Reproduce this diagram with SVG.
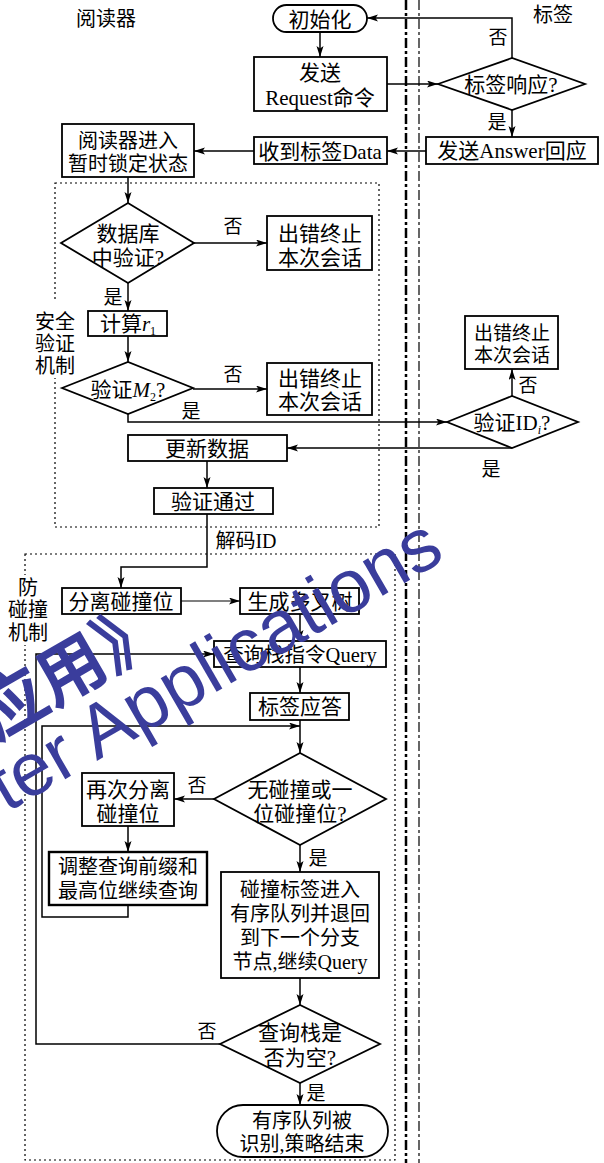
<svg xmlns="http://www.w3.org/2000/svg" width="604" height="1163" viewBox="0 0 604 1163">
<style>
.n rect,.n path{fill:#fff;stroke:#000;stroke-width:1.8}
.t{font-family:"Liberation Serif","Noto Sans CJK SC",serif;font-size:21px;text-anchor:middle;fill:#000}
.s{font-size:20px}
.l{font-family:"Liberation Serif","Noto Sans CJK SC",serif;font-size:19px;text-anchor:middle;fill:#000}
.c path{fill:none;stroke:#000;stroke-width:1.5}
.dot{fill:none;stroke:#000;stroke-width:1.2;stroke-dasharray:2 3}
.wm{fill:#3a3d9c;font-family:"Liberation Sans","Noto Sans CJK SC",sans-serif}
</style>
<defs>
<marker id="ah" markerWidth="12" markerHeight="8" refX="11" refY="3.5" orient="auto" markerUnits="userSpaceOnUse"><path d="M0,0 L11,3.5 L0,7 L2.5,3.5 z" fill="#000"/></marker>
</defs>
<rect width="604" height="1163" fill="#fff"/>
<g id="lanes">
<line x1="406" y1="0" x2="406" y2="1163" stroke="#000" stroke-width="2.5" stroke-dasharray="10 3 3 3"/>
<line x1="419" y1="0" x2="419" y2="1163" stroke="#000" stroke-width="1.2" stroke-dasharray="10 3 3 3"/>
</g>
<g id="group-security">
<rect class="dot" x="55" y="183" width="324" height="344"/>
<rect x="33" y="302" width="44" height="76" fill="#fff"/>
<text class="t s" x="55" y="329">安全</text>
<text class="t s" x="55" y="351">验证</text>
<text class="t s" x="55" y="373">机制</text>
</g>
<g id="group-anticollision">
<rect class="dot" x="25" y="554" width="370" height="606"/>
<rect x="6" y="575" width="44" height="70" fill="#fff"/>
<text class="t s" x="28" y="595">防</text>
<text class="t s" x="28" y="617">碰撞</text>
<text class="t s" x="28" y="640">机制</text>
</g>
<g id="lane-labels">
<text class="t s" x="106" y="26">阅读器</text>
<text class="t s" x="553" y="22">标签</text>
</g>
<g class="c" id="connectors">
<path d="M320,32 V57" marker-end="url(#ah)"/>
<path d="M387,84 H438" marker-end="url(#ah)"/>
<path d="M512,58 V18 H367" marker-end="url(#ah)"/>
<path d="M512,110 V137" marker-end="url(#ah)"/>
<path d="M426,151 H387" marker-end="url(#ah)"/>
<path d="M254,151 H194" marker-end="url(#ah)"/>
<path d="M128,177 V203" marker-end="url(#ah)"/>
<path d="M194,243 H267" marker-end="url(#ah)"/>
<path d="M128,283 V311" marker-end="url(#ah)"/>
<path d="M128,336 V362" marker-end="url(#ah)"/>
<path d="M193,389 H267" marker-end="url(#ah)"/>
<path d="M128,414 V422 H447" marker-end="url(#ah)"/>
<path d="M512,396 V369" marker-end="url(#ah)"/>
<path d="M512,448 H287" marker-end="url(#ah)"/>
<path d="M207,461 V488" marker-end="url(#ah)"/>
<path d="M207,514 V567 H121 V588" marker-end="url(#ah)"/>
<path d="M181,601 H240" marker-end="url(#ah)" style="stroke-width:1.1"/>
<path d="M300,614 V641" marker-end="url(#ah)"/>
<path d="M300,667 V693" marker-end="url(#ah)"/>
<path d="M300,720 V753" marker-end="url(#ah)"/>
<path d="M128,905 V917 H42 V726 H300" marker-end="url(#ah)"/>
<path d="M214,799 H174" marker-end="url(#ah)"/>
<path d="M128,826 V852" marker-end="url(#ah)"/>
<path d="M300,845 V872" marker-end="url(#ah)"/>
<path d="M300,978 V1005" marker-end="url(#ah)"/>
<path d="M220,1044 H36 V654 H214" marker-end="url(#ah)"/>
<path d="M300,1083 V1105" marker-end="url(#ah)"/>
</g>
<g id="edge-labels">
<text class="l" x="498" y="44">否</text>
<text class="l" x="497" y="129">是</text>
<text class="l" x="233" y="233">否</text>
<text class="l" x="113" y="304">是</text>
<text class="l" x="233" y="381">否</text>
<text class="l" x="191" y="418">是</text>
<text class="l" x="528" y="392">否</text>
<text class="l" x="491" y="476">是</text>
<text class="t s" x="246" y="548">解码ID</text>
<text class="l" x="197" y="792">否</text>
<text class="l" x="318" y="865">是</text>
<text class="l" x="207" y="1038">否</text>
<text class="l" x="316" y="1100">是</text>
</g>
<g class="n" id="n-init"><rect x="273" y="5" width="94" height="27" rx="13.5"/><text class="t" x="320" y="27">初始化</text></g>
<g class="n" id="n-request"><rect x="254" y="57" width="133" height="54"/><text class="t" x="320" y="80">发送</text><text class="t" x="320" y="105">Request命令</text></g>
<g class="n" id="n-respond"><path d="M438,84 L512,58 L585,84 L512,110 Z"/><text class="t" x="511" y="92">标签响应?</text></g>
<g class="n" id="n-answer"><rect x="426" y="137" width="172" height="27"/><text class="t" x="512" y="158">发送Answer回应</text></g>
<g class="n" id="n-data"><rect x="254" y="137" width="133" height="27"/><text class="t" x="320" y="159">收到标签Data</text></g>
<g class="n" id="n-lock"><rect x="62" y="124" width="132" height="53"/><text class="t s" x="128" y="148">阅读器进入</text><text class="t s" x="128" y="171">暂时锁定状态</text></g>
<g class="n" id="n-db"><path d="M61,243 L128,203 L194,243 L128,283 Z"/><text class="t" x="128" y="241">数据库</text><text class="t" x="128" y="265">中验证?</text></g>
<g class="n" id="n-err1"><rect x="267" y="216" width="105" height="54"/><text class="t" x="320" y="241">出错终止</text><text class="t" x="320" y="265">本次会话</text></g>
<g class="n" id="n-r1"><rect x="88" y="311" width="79" height="25"/><text class="t" x="128" y="331">计算<tspan font-style="italic">r</tspan><tspan font-size="12" dy="4">1</tspan></text></g>
<g class="n" id="n-m2"><path d="M62,388 L128,362 L193,388 L128,414 Z"/><text class="t" x="128" y="397">验证<tspan font-style="italic">M</tspan><tspan font-size="12" dy="4">2</tspan><tspan dy="-4">?</tspan></text></g>
<g class="n" id="n-err2"><rect x="267" y="363" width="105" height="52"/><text class="t" x="320" y="386">出错终止</text><text class="t" x="320" y="409">本次会话</text></g>
<g class="n" id="n-idi"><path d="M447,422 L512,396 L578,422 L512,448 Z"/><text class="t" x="512" y="430">验证ID<tspan font-style="italic" font-size="12" dy="4">i</tspan><tspan dy="-4">?</tspan></text></g>
<g class="n" id="n-err3"><rect x="465" y="316" width="93" height="53"/><text class="t" x="512" y="340" style="font-size:19px">出错终止</text><text class="t" x="512" y="362" style="font-size:19px">本次会话</text></g>
<g class="n" id="n-update"><rect x="128" y="435" width="159" height="26"/><text class="t" x="207" y="456">更新数据</text></g>
<g class="n" id="n-pass"><rect x="154" y="488" width="119" height="26"/><text class="t" x="213" y="509">验证通过</text></g>
<g class="n" id="n-sep"><rect x="62" y="588" width="119" height="26"/><text class="t" x="121" y="609">分离碰撞位</text></g>
<g class="n" id="n-tree"><rect x="240" y="588" width="119" height="26"/><text class="t" x="300" y="609">生成多叉树</text></g>
<g class="n" id="n-query"><rect x="214" y="641" width="172" height="26"/><text class="t" x="300" y="662" style="font-size:20.5px">查询栈指令Query</text></g>
<g class="n" id="n-reply"><rect x="250" y="693" width="99" height="27"/><text class="t" x="300" y="714">标签应答</text></g>
<g class="n" id="n-nocol"><path d="M214,799 L300,753 L386,799 L300,845 Z"/><text class="t" x="300" y="797">无碰撞或一</text><text class="t" x="300" y="821">位碰撞位?</text></g>
<g class="n" id="n-resep"><rect x="82" y="773" width="92" height="53"/><text class="t" x="128" y="797">再次分离</text><text class="t" x="128" y="821">碰撞位</text></g>
<g class="n" id="n-adjust"><rect x="49" y="852" width="158" height="53" style="stroke-width:2.4"/><text class="t s" x="128" y="874">调整查询前缀和</text><text class="t s" x="128" y="898">最高位继续查询</text></g>
<g class="n" id="n-queue"><rect x="221" y="872" width="158" height="106"/><text class="t s" x="300" y="897">碰撞标签进入</text><text class="t s" x="300" y="921">有序队列并退回</text><text class="t s" x="300" y="945">到下一个分支</text><text class="t s" x="300" y="969">节点,继续Query</text></g>
<g class="n" id="n-empty"><path d="M220,1044 L300,1005 L380,1044 L300,1083 Z"/><text class="t" x="300" y="1040">查询栈是</text><text class="t" x="300" y="1065">否为空?</text></g>
<g class="n" id="n-end"><rect x="217" y="1105" width="171" height="52" rx="26"/><text class="t s" x="302" y="1128">有序队列被</text><text class="t s" x="302" y="1151">识别,策略结束</text></g>
<g id="watermark">
<text class="wm" transform="translate(70,668) rotate(-30)" x="-102" y="26" style="font-size:68px;font-weight:bold">应用》</text>
<text class="wm" transform="translate(100,759) rotate(-30)" x="-108" y="0" style="font-size:75px">ter Applications</text>
</g>
</svg>
